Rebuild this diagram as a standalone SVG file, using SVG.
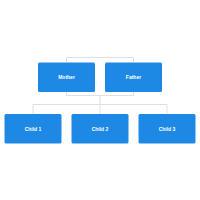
<svg xmlns="http://www.w3.org/2000/svg" width="200" height="200" viewBox="0 0 200 200">
<style>
.box{fill:#1e88e5;}
.lbl{fill:#ffffff;font-family:"Liberation Sans",Arial,sans-serif;font-size:5px;font-weight:bold;text-anchor:middle;dominant-baseline:central;}
.ln{fill:none;stroke:#e0e0e0;stroke-width:1;}
</style>
<rect width="200" height="200" fill="#ffffff"/>
<g id="connectors">
<path class="ln" d="M66.5 92 V95.5 H133.5 V92 M66.5 62 V57.5 H133.5 V62"/>
<path class="ln" d="M100 95.5 V104.5 M33 114 V104.5 H167 V114 M100 104.5 V114"/>
</g>
<g id="mother"><rect class="box" x="38" y="62.5" width="57" height="29.5" rx="1.5"/><text class="lbl" x="66.5" y="77.2">Mother</text></g>
<g id="father"><rect class="box" x="105" y="62.5" width="57" height="29.5" rx="1.5"/><text class="lbl" x="133.5" y="77.2">Father</text></g>
<g id="child1"><rect class="box" x="4.5" y="114" width="57" height="29.5" rx="1.5"/><text class="lbl" x="33" y="128.8">Child 1</text></g>
<g id="child2"><rect class="box" x="71.5" y="114" width="57" height="29.5" rx="1.5"/><text class="lbl" x="100" y="128.8">Child 2</text></g>
<g id="child3"><rect class="box" x="138.5" y="114" width="57" height="29.5" rx="1.5"/><text class="lbl" x="167" y="128.8">Child 3</text></g>
</svg>
